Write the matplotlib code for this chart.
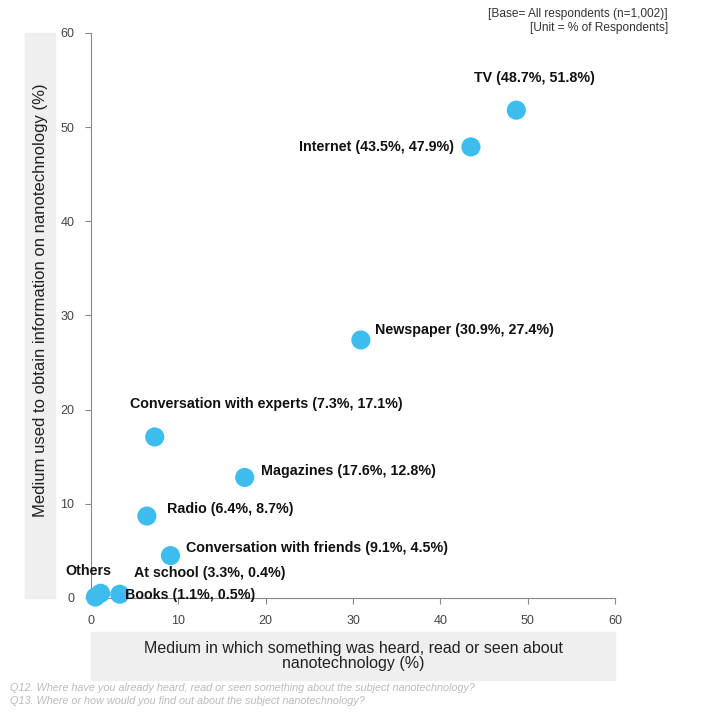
import matplotlib.pyplot as plt
from matplotlib.patches import Rectangle

plt.rcParams['font.family'] = ['Liberation Sans', 'DejaVu Sans']

# data (x = heard about, y = would use to find out)
names = ['TV', 'Internet', 'Newspaper', 'Conversation with experts', 'Magazines',
         'Radio', 'Conversation with friends', 'At school', 'Books', 'Others']
heard = [48.7, 43.5, 30.9, 7.3, 17.6, 6.4, 9.1, 3.3, 1.1, 0.5]
obtain = [51.8, 47.9, 27.4, 17.1, 12.8, 8.7, 4.5, 0.4, 0.5, 0.1]
show_values = [True] * 9 + [False]

# label anchor positions (data coords, left edge)
label_x = [43.9, 23.8, 32.5, 4.5, 19.5, 8.7, 10.9, 4.9, 3.9, -2.9]
label_y = [55.2, 47.9, 28.5, 20.6, 13.5, 9.5, 5.3, 2.65, 0.3, 2.9]

fig = plt.figure(figsize=(7.12, 7.14), dpi=100)
ax = fig.add_axes([0.1278, 0.1625, 0.736, 0.7913])

ax.scatter(heard, obtain, s=190, color='#3DBDEE', edgecolors='none', zorder=3, clip_on=False)

for i, name in enumerate(names):
    txt = f'{name} ({heard[i]}%, {obtain[i]}%)' if show_values[i] else name
    ax.text(label_x[i], label_y[i], txt, fontsize=10.3, fontweight='bold',
            color='#111111', va='center', ha='left', zorder=4)

ax.set_xlim(0, 60)
ax.set_ylim(0, 60)
ax.set_xticks(range(0, 61, 10))
ax.set_yticks(range(0, 61, 10))
for side in ['top', 'right']:
    ax.spines[side].set_visible(False)
for side in ['left', 'bottom']:
    ax.spines[side].set_color('#888888')
    ax.spines[side].set_linewidth(0.8)
ax.tick_params(colors='#888888', labelcolor='#444444', labelsize=9, length=4, width=0.8, pad=8)

# grey boxes behind axis titles
fig.patches.append(Rectangle((25 / 712, 1 - 598 / 714), 30 / 712, 565 / 714,
                             transform=fig.transFigure, color='#EFEFEF', zorder=0))
fig.patches.append(Rectangle((91 / 712, 1 - 680 / 714), 524 / 712, 48 / 714,
                             transform=fig.transFigure, color='#EFEFEF', zorder=0))

fig.text(41 / 712, 1 - 300 / 714, 'Medium used to obtain information on nanotechnology (%)',
         rotation=90, ha='center', va='center', fontsize=12, color='#222222')
fig.text(353 / 712, 1 - 656 / 714,
         'Medium in which something was heard, read or seen about\nnanotechnology (%)',
         ha='center', va='center', fontsize=11.5, color='#222222', linespacing=1.05)

fig.text(668 / 712, 1 - 14 / 714, '[Base= All respondents (n=1,002)]', ha='right', va='center',
         fontsize=8.6, color='#333333')
fig.text(668 / 712, 1 - 28 / 714, '[Unit = % of Respondents]', ha='right', va='center',
         fontsize=8.6, color='#333333')

fig.text(10 / 712, 1 - 688 / 714,
         'Q12. Where have you already heard, read or seen something about the subject nanotechnology?',
         ha='left', va='center', fontsize=7.8, style='italic', color='#BBBBBB')
fig.text(10 / 712, 1 - 701 / 714,
         'Q13. Where or how would you find out about the subject nanotechnology?',
         ha='left', va='center', fontsize=7.8, style='italic', color='#BBBBBB')

fig.savefig('out.png', dpi=100)
